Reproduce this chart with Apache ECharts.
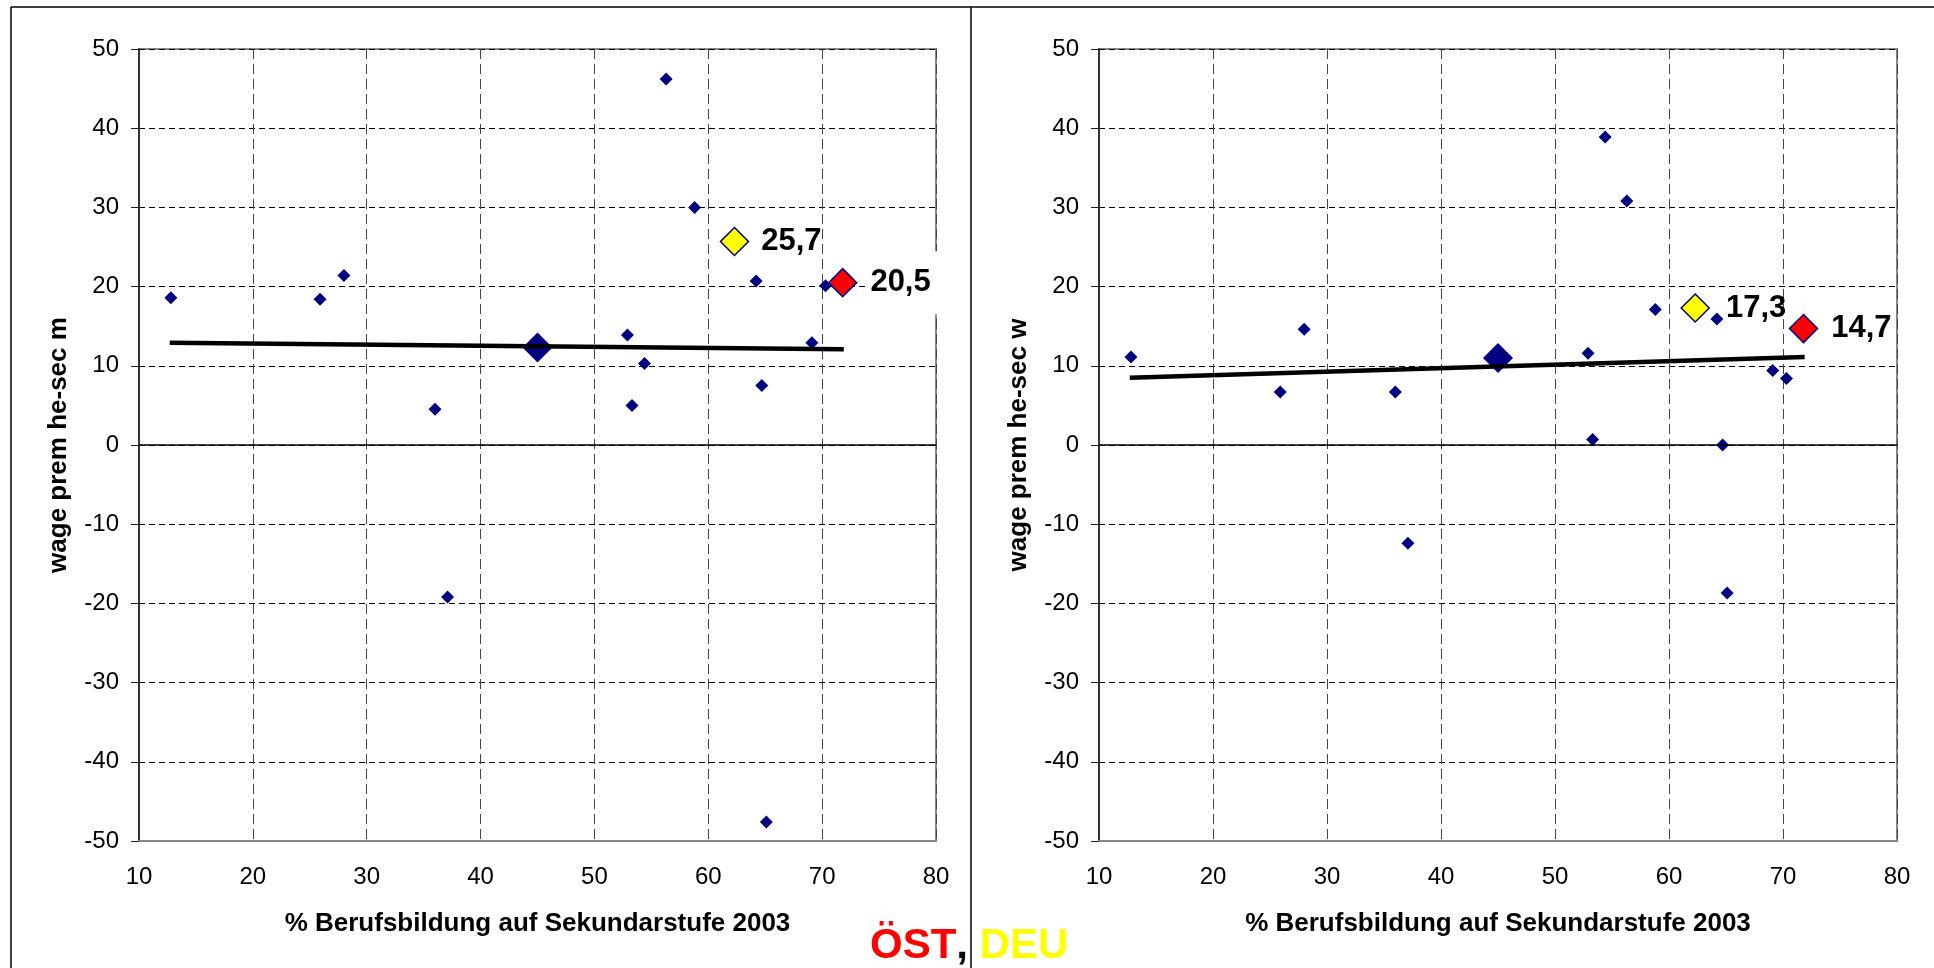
<!DOCTYPE html>
<html>
<head>
<meta charset="utf-8">
<script src="https://cdn.jsdelivr.net/npm/echarts@6/dist/echarts.min.js"></script>
<style>
  html, body { margin: 0; padding: 0; background: #fff; }
  #chart { width: 1934px; height: 968px; }
</style>
</head>
<body>
<div id="chart"></div>
<script>
// % Berufsbildung auf Sekundarstufe 2003 (one value per country)
const xShare = [12.8, 25.9, 28.0, 36.0, 37.1, 52.9, 53.3, 54.4, 56.3, 58.8, 64.2, 64.7, 65.1, 69.1, 70.3];
// wage premium higher vs secondary education, men / women
const premM = [18.6, 18.4, 21.4, 4.5, -19.2, 13.9, 5.0, 10.3, 46.2, 30.0, 20.7, 7.5, -47.6, 12.9, 20.1];
const premW = [11.1, 6.7, 14.6, 6.7, -12.4, 11.6, 0.7, 38.9, 30.8, 17.1, 15.9, 0.0, -18.7, 9.4, 8.4];

// highlighted: average, Germany (DEU), Austria (ÖST)
const avgX = 45.0, avgM = 12.3, avgW = 11.0;
const deuX = 62.3, deuM = 25.7, deuW = 17.3;
const ostX = 71.8, ostM = 20.5, ostW = 14.7;

// linear trend line end points
const trendX = [12.7, 71.9];
const trendM = [12.9, 12.1];
const trendW = [8.5, 11.1];

const xTicks = { min: 10, max: 80, interval: 10 };
const yTicks = { min: -50, max: 50, interval: 10 };

const FONT = '"Liberation Sans", Arial, sans-serif';
const NAVY = '#000080';

const pairs = (xs, ys) => xs.map((x, i) => [x, ys[i]]);
const fmt = (p) => p.value[1].toFixed(1).replace('.', ',');

const makeX = (gridIndex) => ({
  type: 'value', gridIndex: gridIndex,
  min: xTicks.min, max: xTicks.max, interval: xTicks.interval,
  name: '% Berufsbildung auf Sekundarstufe 2003',
  nameLocation: 'middle', nameGap: 70,
  nameTextStyle: { fontFamily: FONT, fontWeight: 'bold', fontSize: 26, color: '#000' },
  axisLine: { onZero: false, lineStyle: { color: '#888', width: 2 } },
  axisTick: { show: false },
  axisLabel: { fontFamily: FONT, fontSize: 24, color: '#000', margin: 24 },
  splitLine: { show: true, lineStyle: { color: '#444', width: 1, type: [10, 5] } }
});

const makeY = (gridIndex, name) => ({
  type: 'value', gridIndex: gridIndex,
  min: yTicks.min, max: yTicks.max, interval: yTicks.interval,
  name: name, nameLocation: 'middle', nameGap: 67,
  nameTextStyle: { fontFamily: FONT, fontWeight: 'bold', fontSize: 26, color: '#000' },
  axisLine: { show: true, lineStyle: { color: '#333', width: 2 } },
  axisTick: { show: true, length: 8, lineStyle: { color: '#222', width: 1 } },
  axisLabel: { fontFamily: FONT, fontSize: 24, color: '#000', margin: 20 },
  splitLine: { show: true, lineStyle: { color: '#000', width: 1, type: [6, 4] } }
});

const makeSeries = (idx, ys, avgY, deuY, ostY, trendY, ostLabelBox) => [
  {
    type: 'scatter', xAxisIndex: idx, yAxisIndex: idx,
    symbol: 'diamond', symbolSize: 13,
    itemStyle: { color: NAVY, opacity: 1 },
    data: pairs(xShare, ys),
    markLine: {
      silent: true, symbol: 'none', label: { show: false },
      lineStyle: { color: '#000', type: 'solid', width: 1.5 },
      data: [{ yAxis: 0 }]
    },
    z: 3
  },
  {
    type: 'scatter', xAxisIndex: idx, yAxisIndex: idx,
    symbol: 'diamond', symbolSize: 30,
    itemStyle: { color: NAVY, opacity: 1 },
    data: [[avgX, avgY]], z: 3
  },
  {
    type: 'scatter', xAxisIndex: idx, yAxisIndex: idx,
    symbol: 'diamond', symbolSize: 28,
    itemStyle: { color: '#ffff00', borderColor: NAVY, borderWidth: 1.5, opacity: 1 },
    label: {
      show: true, position: 'right', distance: idx === 0 ? 12 : 16, formatter: fmt,
      fontFamily: FONT, fontWeight: 'bold', fontSize: 31, color: '#000'
    },
    data: [[deuX, deuY]], z: 4
  },
  {
    type: 'scatter', xAxisIndex: idx, yAxisIndex: idx,
    symbol: 'diamond', symbolSize: 28,
    itemStyle: { color: '#ff0000', borderColor: NAVY, borderWidth: 1.5, opacity: 1 },
    label: Object.assign({
      show: true, position: 'right', distance: 13, formatter: fmt,
      fontFamily: FONT, fontWeight: 'bold', fontSize: 31, color: '#000'
    }, ostLabelBox ? { backgroundColor: '#fff', padding: [16, 10, 16, 4], distance: 9 } : {}),
    data: [[ostX, ostY]], z: 4
  },
  {
    type: 'line', xAxisIndex: idx, yAxisIndex: idx,
    symbol: 'none', silent: true,
    lineStyle: { color: '#000', width: 4.5 },
    data: pairs(trendX, trendY), z: 5
  }
];

const chart = echarts.init(document.getElementById('chart'));
chart.setOption({
  backgroundColor: '#fff',
  animation: false,
  grid: [
    { left: 139, top: 49, width: 797, height: 792, show: true, borderColor: '#888', borderWidth: 2, backgroundColor: 'transparent' },
    { left: 1099, top: 49, width: 798, height: 792, show: true, borderColor: '#888', borderWidth: 2, backgroundColor: 'transparent' }
  ],
  xAxis: [makeX(0), makeX(1)],
  yAxis: [makeY(0, 'wage prem he-sec m'), makeY(1, 'wage prem he-sec w')],
  series: [].concat(
    makeSeries(0, premM, avgM, deuM, ostM, trendM, true),
    makeSeries(1, premW, avgW, deuW, ostW, trendW, false)
  ),
  graphic: [
    { type: 'line', shape: { x1: 11, y1: 7, x2: 1934, y2: 7 }, style: { stroke: '#000', lineWidth: 1.5 }, silent: true },
    { type: 'line', shape: { x1: 11, y1: 7, x2: 11, y2: 968 }, style: { stroke: '#000', lineWidth: 1.5 }, silent: true },
    { type: 'line', shape: { x1: 971, y1: 7, x2: 971, y2: 968 }, style: { stroke: '#000', lineWidth: 1.5 }, silent: true },
    {
      type: 'text', left: 870, top: 925, silent: true, z: 10,
      style: {
        text: '{o|ÖST}{c|, }{d|DEU}',
        rich: {
          o: { fontFamily: FONT, fontWeight: 'bold', fontSize: 42, fill: '#ff0000' },
          c: { fontFamily: FONT, fontWeight: 'bold', fontSize: 42, fill: '#000' },
          d: { fontFamily: FONT, fontWeight: 'bold', fontSize: 42, fill: '#ffff00' }
        }
      }
    }
  ]
});
</script>
</body>
</html>
